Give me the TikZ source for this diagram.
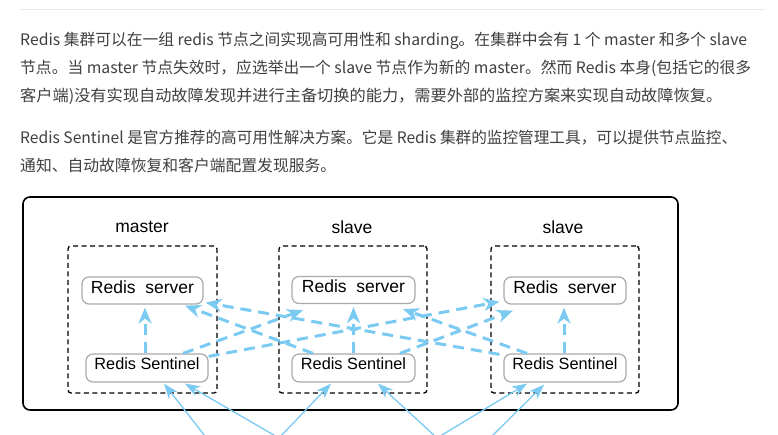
\documentclass[tikz,border=0pt]{standalone}
\usepackage{fontspec}
\usepackage{graphicx}
\setmainfont{Liberation Sans}
\newfontfamily\cjk{Noto Sans CJK SC}
\usetikzlibrary{arrows.meta}
\definecolor{txt}{RGB}{64,64,64}
\definecolor{sky}{RGB}{122,202,242}
\definecolor{gbord}{RGB}{170,170,170}
\definecolor{sepc}{RGB}{232,232,232}
\newsavebox\fitbox
\newcommand\fitline[2]{\sbox\fitbox{#2}\pgfmathsetmacro\fitf{#1/\wd\fitbox}\scalebox{\fitf}[1]{\usebox\fitbox}}
\begin{document}
\begin{tikzpicture}[x=1pt,y=-1pt,
  para/.style={anchor=west,inner sep=0pt,text=txt,font=\cjk\fontsize{15.8}{20}\selectfont},
  frame/.style={draw=black,line width=1.6pt,rounded corners=7pt,minimum width=655pt,minimum height=213pt,inner sep=0pt},
  grp/.style={draw=black,line width=1.3pt,dash pattern=on 5pt off 3.5pt,rounded corners=3pt,minimum width=148pt,minimum height=147pt,inner sep=0pt},
  lab/.style={inner sep=0pt,font=\fontsize{17.5}{20}\selectfont},
  srv/.style={draw=gbord,line width=1.2pt,rounded corners=7pt,fill=white,minimum width=122pt,minimum height=27pt,inner sep=0pt,text height=12.6pt,text depth=7pt,font=\fontsize{17.5}{20}\selectfont},
  snt/.style={draw=gbord,line width=1.2pt,rounded corners=7pt,fill=white,minimum width=122pt,minimum height=28pt,inner sep=0pt,text height=11.7pt,text depth=8pt,font=\fontsize{16.3}{20}\selectfont},
  dar/.style={draw=sky,line width=3pt,dash pattern=on 11pt off 7pt,-{Stealth[length=16pt,width=13pt,inset=5pt]}},
  sar/.style={draw=sky,line width=1.3pt,-{Stealth[length=15pt,width=11pt,inset=4.5pt]}}
]
\useasboundingbox (0,0) rectangle (778,434);
\fill[white] (0,0) rectangle (778,434);
\clip (0,0) rectangle (778,434);

% separator
\draw[sepc,line width=1pt] (20,9) -- (765,9);

% paragraphs
\node[para] (p1) at (20,41) {\fitline{727}{Redis 集群可以在一组 redis 节点之间实现高可用性和 sharding。在集群中会有 1 个 master 和多个 slave}};
\node[para] (p2) at (20,68) {\fitline{731}{节点。当 master 节点失效时，应选举出一个 slave 节点作为新的 master。然而 Redis 本身(包括它的很多}};
\node[para] (p3) at (20,96) {\fitline{702}{客户端)没有实现自动故障发现并进行主备切换的能力，需要外部的监控方案来实现自动故障恢复。}};
\node[para] (p4) at (20,138) {\fitline{717}{Redis Sentinel 是官方推荐的高可用性解决方案。它是 Redis 集群的监控管理工具，可以提供节点监控、}};
\node[para] (p5) at (20,165) {通知、自动故障恢复和客户端配置发现服务。};

% diagram frame
\node[frame] (fr) at (350.5,303.5) {};
\node[grp,minimum width=149pt] (g1) at (142.5,319.5) {};
\node[grp] (g2) at (353,319.5) {};
\node[grp] (g3) at (565,319.5) {};
\node[lab] (l1) at (142,227) {master};
\node[lab] (l2) at (352,227) {slave};
\node[lab] (l3) at (563,227) {slave};

\node[srv,minimum width=121pt] (v1) at (142.5,290.5) {Redis\ \ server};
\node[srv,minimum width=123pt] (v2) at (353.5,290) {Redis\ \ server};
\node[srv] (v3) at (565,290.5) {Redis\ \ server};
\node[snt] (s1) at (147,368) {Redis Sentinel};
\node[snt,minimum width=123pt] (s2) at (353.5,368) {Redis Sentinel};
\node[snt] (s3) at (565,368) {Redis Sentinel};

% sentinel -> own server
\draw[dar] ([xshift=-2pt]s1.north) -- ([xshift=2.5pt,yshift=-3pt]v1.south);
\draw[dar] (s2.north) -- ([yshift=-3pt]v2.south);
\draw[dar] ([xshift=-1pt]s3.north) -- ([xshift=-1pt,yshift=-3pt]v3.south);

% sentinel -> other servers
\draw[dar] ([xshift=36pt]s1.north) -- ([xshift=-50.5pt,yshift=-6pt]v2.south);
\draw[dar] ([yshift=-3pt]s1.north east) -- ([xshift=-4pt,yshift=3pt]v3.south west);
\draw[dar] ([xshift=-40.5pt]s2.north) -- ([xshift=42.5pt,yshift=-1pt]v1.south);
\draw[dar] ([xshift=46.5pt]s2.north) -- ([xshift=-52pt,yshift=-6pt]v3.south);
\draw[dar] ([xshift=-4pt,yshift=-1pt]s3.north west) -- ([xshift=2pt,yshift=2pt]v1.south east);
\draw[dar] ([xshift=-38pt]s3.north) -- ([xshift=49.5pt,yshift=-5pt]v2.south);

% clients (below the visible area)
\coordinate (c1) at (212,445);
\coordinate (c2) at (279,438);
\coordinate (c3) at (437,438);
\coordinate (c4) at (485,443);
\draw[sar] (c1) -- ([xshift=17pt,yshift=-1pt]s1.south);
\draw[sar] (c2) -- ([xshift=38pt,yshift=-1pt]s1.south);
\draw[sar] (c2) -- ([xshift=-22.5pt,yshift=-1pt]s2.south);
\draw[sar] (c3) -- ([xshift=24.5pt,yshift=-1pt]s2.south);
\draw[sar] (c3) -- ([xshift=-38pt,yshift=-1pt]s3.south);
\draw[sar] (c4) -- ([xshift=-21pt,yshift=-2pt]s3.south);
\end{tikzpicture}
\end{document}
